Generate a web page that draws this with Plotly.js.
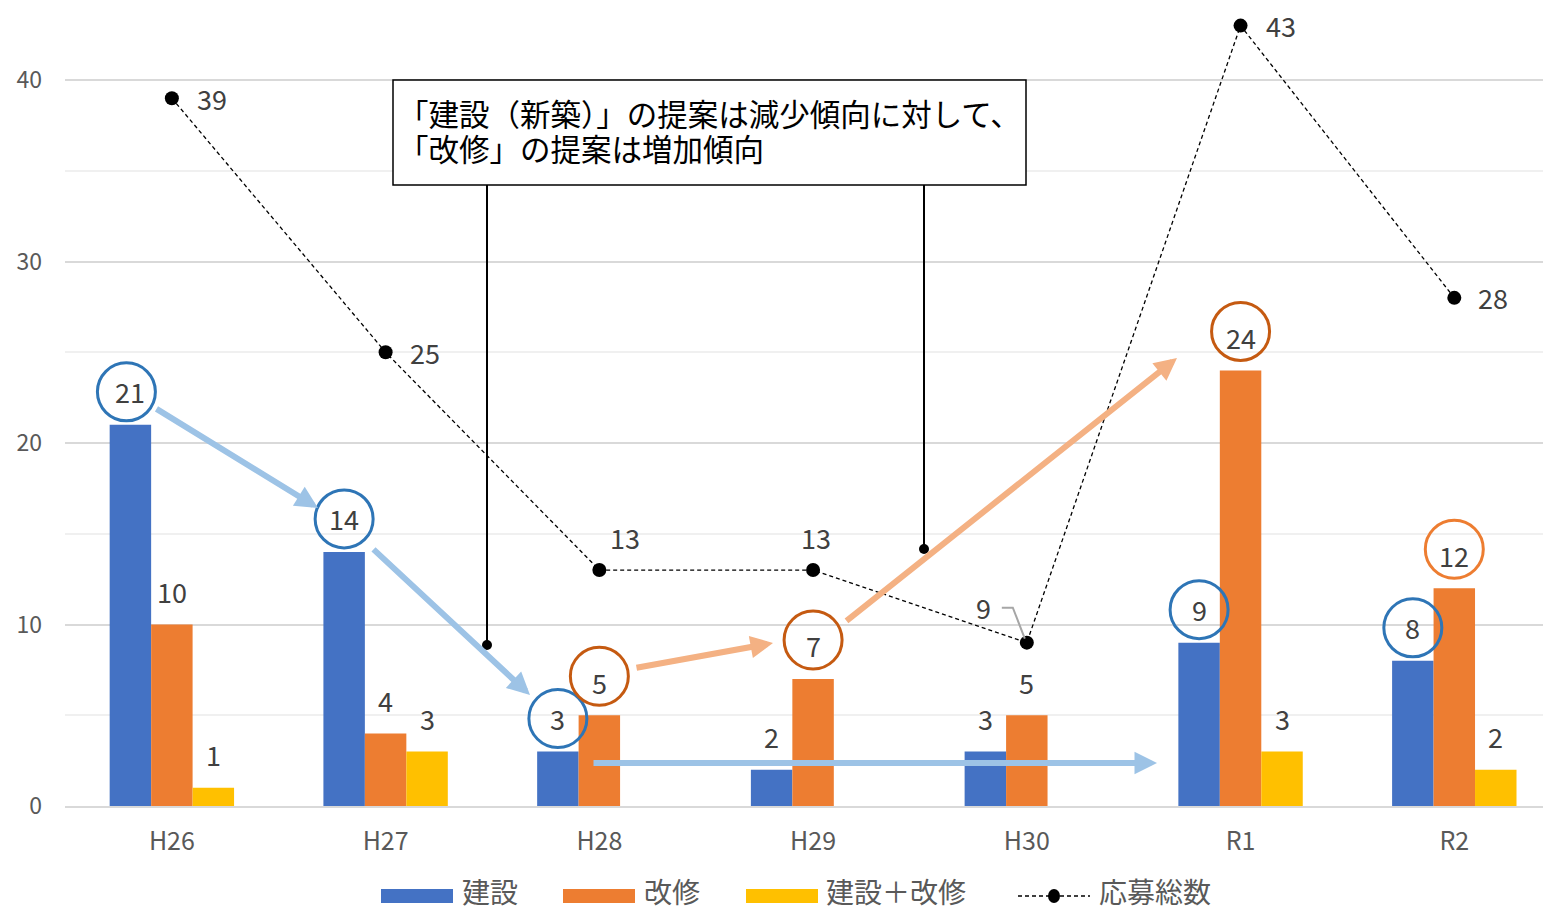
<!DOCTYPE html>
<html><head><meta charset="utf-8">
<script src="https://cdn.plot.ly/plotly-3.0.1.min.js"></script>
<style>html,body{margin:0;padding:0;background:#fff}#chart{width:1543px;height:911px}</style>
</head><body><div id="chart"></div>
<script>
// ---- data ----
const categories = ['H26','H27','H28','H29','H30','R1','R2'];
const kensetsu   = [21, 14, 3, 2, 3, 9, 8];        // 建設
const kaishu     = [10, 4, 5, 7, 5, 24, 12];       // 改修
const both       = [1, 3, null, null, null, 3, 2]; // 建設＋改修
const total      = [39, 25, 13, 13, 9, 43, 28];    // 応募総数
const seriesNames = ['建設', '改修', '建設＋改修', '応募総数'];
const yTicks = [0, 10, 20, 30, 40];
const noteLines = ['「建設（新築）」の提案は減少傾向に対して、', '「改修」の提案は増加傾向'];

// ---- layout constants ----
const W = 1543, H = 911, ML = 65, MB = 105, MT = 0, MR = 0;
const PW = W - ML - MR, PH = H - MT - MB;
const XR = [-0.5, 6.415], YR = [0, 44.41];
const pxX = PW / (XR[1] - XR[0]);   // px per category
const pxY = PH / (YR[1] - YR[0]);   // px per unit
const BW = 0.194;                    // bar width in category units
const offs = [-BW, 0, BW];
// pixel helpers for decorations
const dx = p => p / pxX, dy = p => p / pxY;
const X = px => XR[0] + (px - ML) / pxX;
const Y = py => YR[1] - (py - MT) / pxY;
const PX = px => (px - ML) / PW, PY = py => 1 - (py - MT) / PH;

const font = '"Noto Sans CJK JP", "Noto Sans", sans-serif';
const colors = ['#4472C4', '#ED7D31', '#FFC000'];
const idx = categories.map((_, i) => i);

const traces = [kensetsu, kaishu, both].map((vals, k) => ({
  type: 'bar', x: idx, y: vals, name: seriesNames[k],
  marker: {color: colors[k]}, offsetgroup: String(k), showlegend: false, hoverinfo: 'x+y'
}));
traces.push({
  type: 'scatter', mode: 'lines+markers', x: idx, y: total, name: seriesNames[3],
  line: {color: '#000', width: 1.3, dash: '4px,3px'},
  marker: {color: '#000', size: 14}, showlegend: false
});

const annotations = [];
const shapes = [];
const labelFont = {family: font, size: 27, color: '#404040'};
// bar value labels
[kensetsu, kaishu, both].forEach((vals, k) => {
  vals.forEach((v, i) => {
    if (v === null) return;
    annotations.push({x: i + offs[k], y: v, xref: 'x', yref: 'y', text: String(v), showarrow: false,
      yshift: 33, font: labelFont});
  });
});
// circles around selected labels: [series, category, color]
const circled = [[0,0,'#2E75B6'],[0,1,'#2E75B6'],[0,2,'#2E75B6'],[0,5,'#2E75B6'],[0,6,'#2E75B6'],
                 [1,2,'#C55A11'],[1,3,'#C55A11'],[1,5,'#C55A11'],[1,6,'#ED7D31']];
const seriesVals = [kensetsu, kaishu, both];
circled.forEach(([k, i, c]) => {
  const v = seriesVals[k][i];
  const cx = i + offs[k] - (k === 0 && i === 0 ? dx(4) : 0);
  const cy = v + dy(k === 1 ? 39 : 33);
  shapes.push({type: 'circle', xref: 'x', yref: 'y', x0: cx - dx(29), x1: cx + dx(29), y0: cy - dy(29), y1: cy + dy(29),
    line: {color: c, width: 3}, layer: 'above'});
});
// total labels (pixel offsets)
const totalShift = [[40,0],[39,0],[26,33],[3,33],[-43,35],[40,0],[39,0]];
total.forEach((v, i) => {
  annotations.push({x: i, y: v, xref: 'x', yref: 'y', text: String(v), showarrow: false,
    xshift: totalShift[i][0], yshift: totalShift[i][1], font: labelFont});
});
// leader line for H30 total label
shapes.push({type: 'path', xref: 'x', yref: 'y',
  path: `M${4 - dx(25)},${9 + dy(35)} L${4 - dx(14)},${9 + dy(35)} L${4 - dx(2)},${9 + dy(4)}`,
  line: {color: '#A6A6A6', width: 2}});

// arrows (pixel positions of the decoration)
const arrows = [
  [155,408,318,508,'#9DC3E6'], [372,548,530,695,'#9DC3E6'], [592,763,1157,763,'#9DC3E6'],
  [635,668,773,643,'#F4B183'], [845,622,1177,358,'#F4B183']
];
arrows.forEach(([x0,y0,x1,y1,c]) => {
  annotations.push({xref: 'x', yref: 'y', axref: 'x', ayref: 'y', x: X(x1), y: Y(y1), ax: X(x0), ay: Y(y0),
    showarrow: true, arrowhead: 2, arrowsize: 0.75, arrowwidth: 6, arrowcolor: c, text: ''});
});

// note box
shapes.push({type: 'rect', xref: 'paper', yref: 'paper', x0: PX(393), x1: PX(1026), y0: PY(185), y1: PY(80),
  line: {color: '#000', width: 1.5}, fillcolor: '#fff', layer: 'above'});
noteLines.forEach((t, j) => {
  annotations.push({xref: 'paper', yref: 'paper', x: PX(396), y: PY(113 + 35 * j), xanchor: 'left', yanchor: 'middle',
    text: t, showarrow: false, font: {family: font, size: 30.5, color: '#000'}});
});
// callout lines with dots
[[487,645],[924,549]].forEach(([x, y]) => {
  shapes.push({type: 'line', xref: 'paper', yref: 'paper', x0: PX(x), x1: PX(x), y0: PY(185), y1: PY(y),
    line: {color: '#000', width: 2}});
  shapes.push({type: 'circle', xref: 'paper', yref: 'paper', x0: PX(x-5), x1: PX(x+5), y0: PY(y+5), y1: PY(y-5),
    fillcolor: '#000', line: {color: '#000', width: 0}});
});

// custom legend
const legendItems = [
  {kind: 'bar', c: colors[0], x: 381, tx: 460, name: seriesNames[0]},
  {kind: 'bar', c: colors[1], x: 563, tx: 642, name: seriesNames[1]},
  {kind: 'bar', c: colors[2], x: 746, tx: 824, name: seriesNames[2]},
  {kind: 'line', c: '#000', x: 1018, tx: 1097, name: seriesNames[3]}
];
const LY = 896, TY = 891;
legendItems.forEach(it => {
  if (it.kind === 'bar') {
    shapes.push({type: 'rect', xref: 'paper', yref: 'paper', x0: PX(it.x), x1: PX(it.x + 72), y0: PY(LY + 7), y1: PY(LY - 7),
      fillcolor: it.c, line: {width: 0}});
  } else {
    shapes.push({type: 'line', xref: 'paper', yref: 'paper', x0: PX(it.x), x1: PX(it.x + 72), y0: PY(LY), y1: PY(LY),
      line: {color: '#000', width: 1.3, dash: '4px,3px'}});
    shapes.push({type: 'circle', xref: 'paper', yref: 'paper', x0: PX(it.x + 30), x1: PX(it.x + 42), y0: PY(LY + 7), y1: PY(LY - 7),
      fillcolor: '#000', line: {width: 0}});
  }
  annotations.push({xref: 'paper', yref: 'paper', x: PX(it.tx), y: PY(TY), xanchor: 'left', yanchor: 'middle',
    text: it.name, showarrow: false, font: {family: font, size: 28, color: '#595959'}});
});

const layout = {
  width: W, height: H, margin: {l: ML, r: MR, t: MT, b: MB, pad: 0},
  paper_bgcolor: '#fff', plot_bgcolor: '#fff',
  font: {family: font, color: '#595959'},
  barmode: 'group', bargap: 1 - 3 * BW, bargroupgap: 0,
  showlegend: false,
  xaxis: {range: XR, tickvals: idx, ticktext: categories, showgrid: false, zeroline: false,
    showline: true, linecolor: '#D9D9D9', linewidth: 2, ticks: '', ticklabelstandoff: 12,
    tickfont: {family: font, size: 25, color: '#595959'}, fixedrange: true},
  yaxis: {range: YR, tickvals: yTicks, showgrid: true, gridcolor: '#D9D9D9', gridwidth: 2, zeroline: false,
    minor: {tickvals: [5,15,25,35], showgrid: true, gridcolor: '#F0F0F0', gridwidth: 2, ticks: ''},
    ticks: '', ticklabelstandoff: 22, tickfont: {family: font, size: 23, color: '#595959'}, fixedrange: true},
  annotations, shapes
};
Plotly.newPlot('chart', traces, layout, {displayModeBar: false, staticPlot: true});
</script></body></html>
